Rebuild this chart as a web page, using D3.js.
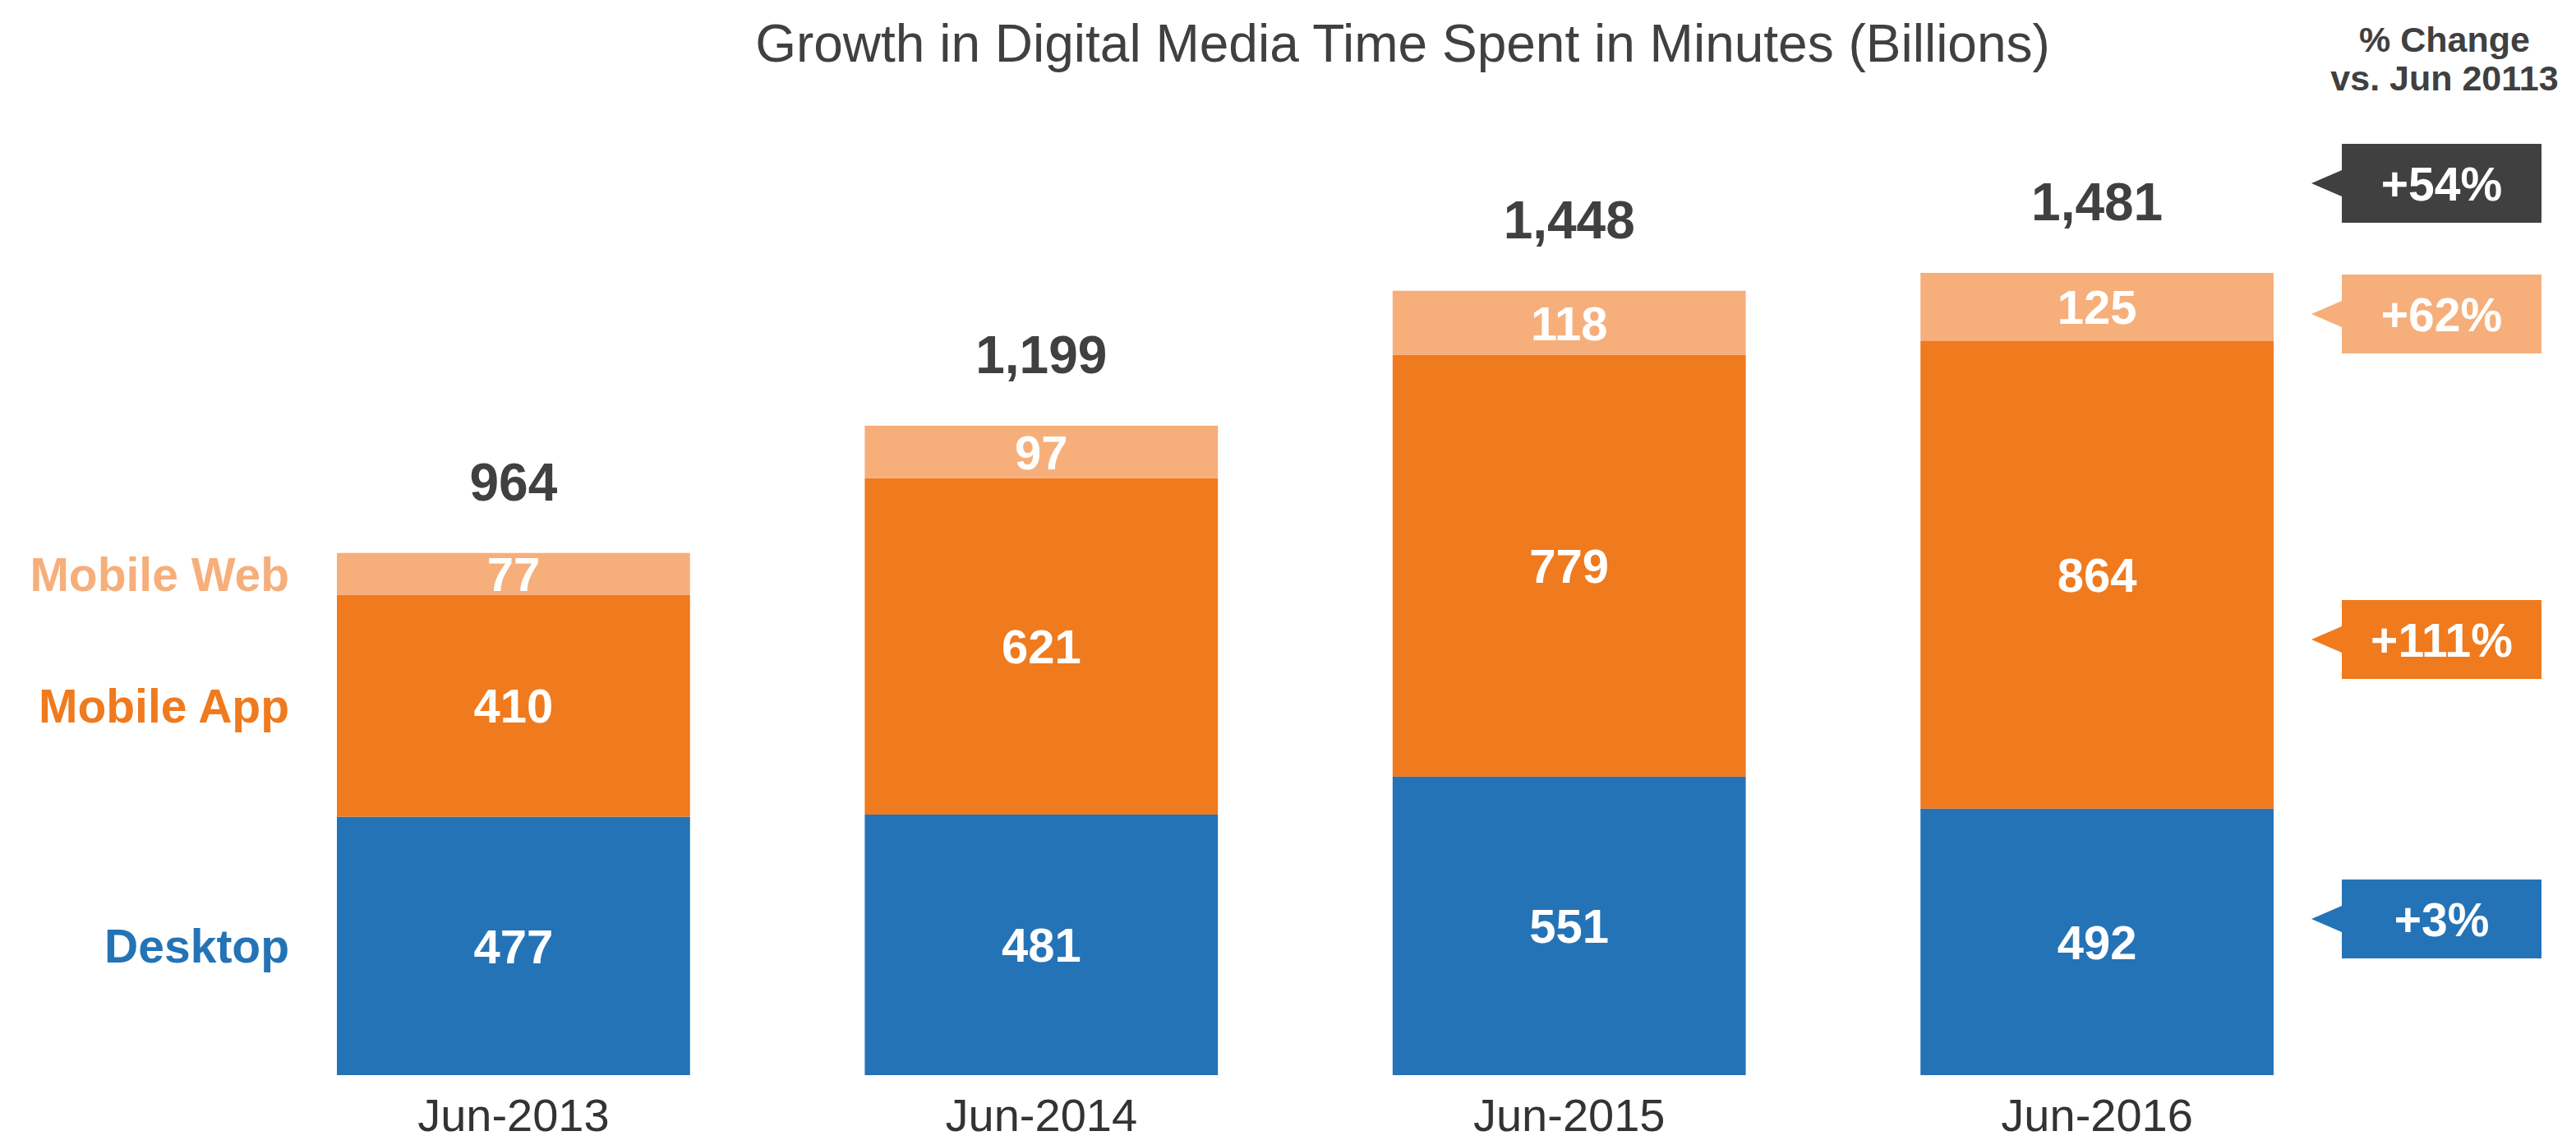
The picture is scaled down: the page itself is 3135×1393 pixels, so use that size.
<!DOCTYPE html>
<html>
<head>
<meta charset="utf-8">
<script src="https://cdn.jsdelivr.net/npm/d3@7"></script>
<style>
  html, body { margin: 0; padding: 0; background: #fff; }
  svg { display: block; }
  text { font-family: "Liberation Sans", Arial, Helvetica, sans-serif; }
</style>
</head>
<body>
<svg id="chart" width="3135" height="1393"></svg>
<script>
// ---- Data ----
const categories = ["Jun-2013", "Jun-2014", "Jun-2015", "Jun-2016"];
const seriesNames = ["Desktop", "Mobile App", "Mobile Web"];
const desktop   = [477, 481, 551, 492];
const mobileApp = [410, 621, 779, 864];
const mobileWeb = [77, 97, 118, 125];
const totals    = [964, 1199, 1448, 1481];
const changeLabels = ["+54%", "+62%", "+111%", "+3%"];
const titleText = "Growth in Digital Media Time Spent in Minutes (Billions)";
const changeHeader = ["% Change", "vs. Jun 20113"];

// ---- Styles ----
const colors = { "Desktop": "#2473B6", "Mobile App": "#F07A1E", "Mobile Web": "#F6AF7B" };
const calloutColors = ["#404040", "#F6AF7B", "#F07A1E", "#2473B6"];
const calloutCenters = [223, 382, 778, 1118];
const darkText = "#404040";

const svg = d3.select("#chart");

const rows = categories.map((c, i) => ({
  cat: c, "Desktop": desktop[i], "Mobile App": mobileApp[i], "Mobile Web": mobileWeb[i], total: totals[i]
}));

const x = d3.scaleBand().domain(categories).range([410, 2767]).paddingInner(0.331).paddingOuter(0);
const y = d3.scaleLinear().domain([0, 1481]).range([1308, 332]);

const stack = d3.stack().keys(seriesNames)(rows);

// Bars
const layers = svg.append("g").selectAll("g").data(stack).join("g")
  .attr("fill", d => colors[d.key]);

layers.selectAll("rect").data(d => d).join("rect")
  .attr("x", d => x(d.data.cat))
  .attr("width", x.bandwidth())
  .attr("y", d => y(d[1]))
  .attr("height", d => y(d[0]) - y(d[1]));

// Segment labels
layers.selectAll("text").data(d => d.map(v => ({ v, key: d.key }))).join("text")
  .attr("x", d => x(d.v.data.cat) + x.bandwidth() / 2)
  .attr("y", d => (y(d.v[0]) + y(d.v[1])) / 2)
  .attr("dy", "0.36em")
  .attr("text-anchor", "middle")
  .attr("fill", "#fff")
  .attr("font-weight", "bold")
  .attr("font-size", 58)
  .text(d => d.v.data[d.key]);

// Totals
svg.append("g").selectAll("text").data(rows).join("text")
  .attr("x", d => x(d.cat) + x.bandwidth() / 2)
  .attr("y", d => y(d.total) - 64)
  .attr("text-anchor", "middle")
  .attr("fill", darkText)
  .attr("font-weight", "bold")
  .attr("font-size", 64)
  .text(d => d3.format(",")(d.total));

// X axis labels
const xAxis = d3.axisBottom(x).tickSize(0).tickPadding(0);
const gx = svg.append("g").attr("transform", "translate(0,1308)").call(xAxis);
gx.select(".domain").remove();
gx.selectAll("text")
  .attr("y", 68).attr("dy", 0)
  .attr("font-size", 56)
  .attr("fill", "#333")
  .attr("font-family", "'Liberation Sans', Arial, sans-serif");

// Left series labels aligned with first bar segments
svg.append("g").selectAll("text").data(stack).join("text")
  .attr("x", 352)
  .attr("y", d => (y(d[0][0]) + y(d[0][1])) / 2)
  .attr("dy", "0.36em")
  .attr("text-anchor", "end")
  .attr("fill", d => colors[d.key])
  .attr("font-weight", "bold")
  .attr("font-size", 57)
  .text(d => d.key);

// Title
svg.append("text")
  .attr("x", 1707).attr("y", 75)
  .attr("text-anchor", "middle")
  .attr("fill", darkText)
  .attr("font-size", 64)
  .text(titleText);

// Change header
svg.append("g").selectAll("text").data(changeHeader).join("text")
  .attr("x", 2975)
  .attr("y", (d, i) => 63 + i * 47)
  .attr("text-anchor", "middle")
  .attr("fill", darkText)
  .attr("font-weight", "bold")
  .attr("font-size", 43)
  .text(d => d);

// Callouts
const boxL = 2850, boxR = 3093, boxH = 96, tipX = 2813, half = 16;
const callouts = svg.append("g").selectAll("g").data(changeLabels).join("g")
  .attr("transform", (d, i) => `translate(0,${calloutCenters[i]})`);
callouts.append("path")
  .attr("d", `M${boxL},${-boxH/2}H${boxR}V${boxH/2}H${boxL}V${half}L${tipX},0L${boxL},${-half}Z`)
  .attr("fill", (d, i) => calloutColors[i]);
callouts.append("text")
  .attr("x", (boxL + boxR) / 2)
  .attr("y", 0)
  .attr("dy", "0.36em")
  .attr("text-anchor", "middle")
  .attr("fill", "#fff")
  .attr("font-weight", "bold")
  .attr("font-size", 57)
  .text(d => d);
</script>
</body>
</html>
